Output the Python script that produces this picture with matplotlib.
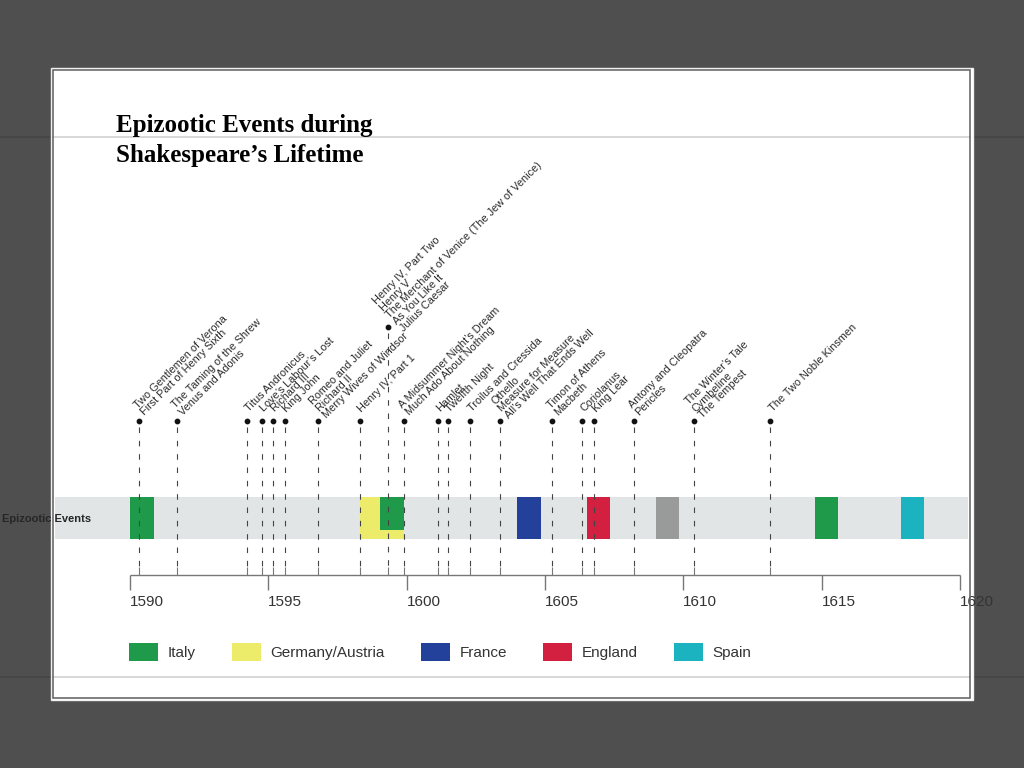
import matplotlib.pyplot as plt
from matplotlib.patches import Rectangle, Patch

# Plays: approximate year of composition and titles grouped at that mark
play_years = [1590.33, 1591.7, 1594.23, 1594.77, 1595.17, 1595.6, 1596.8,
              1598.31, 1599.32, 1599.9, 1601.15, 1601.49, 1602.29, 1603.37,
              1605.27, 1606.34, 1606.77, 1608.22, 1610.38, 1613.15]
play_titles = [
    "Two Gentlemen of Verona\nFirst Part of Henry Sixth",
    "The Taming of the Shrew\nVenus and Adonis",
    "Titus Andronicus",
    "Love’s Labour’s Lost",
    "Richard III",
    "King John",
    "Romeo and Juliet\nRichard II\nMerry Wives of Windsor",
    "Henry IV, Part 1",
    "Henry IV, Part Two\nHenry V\nThe Merchant of Venice (The Jew of Venice)\nAs You Like It\nJulius Caesar",
    "A Midsummer Night’s Dream\nMuch Ado About Nothing",
    "Hamlet",
    "Twelfth Night",
    "Troilus and Cressida",
    "Othello\nMeasure for Measure\nAll’s Well That Ends Well",
    "Timon of Athens\nMacbeth",
    "Coriolanus",
    "King Lear",
    "Antony and Cleopatra\nPericles",
    "The Winter’s Tale\nCymbeline\nThe Tempest",
    "The Two Noble Kinsmen",
]

# Epizootic events: start, end, region
event_start = [1590.0, 1598.3, 1599.05, 1604.0, 1606.5, 1609.0, 1614.75, 1617.85]
event_end = [1590.85, 1599.9, 1599.9, 1604.85, 1607.35, 1609.85, 1615.6, 1618.7]
event_region = ["Italy", "Germany/Austria", "Italy", "France", "England",
                "Unknown", "Italy", "Spain"]

regions = ["Italy", "Germany/Austria", "France", "England", "Spain"]
region_colors = {"Italy": "#1f9a4b", "Germany/Austria": "#ecec6a",
                 "France": "#23409b", "England": "#d31f40",
                 "Spain": "#1bb3c0", "Unknown": "#999b9b"}

year_ticks = [1590, 1595, 1600, 1605, 1610, 1615, 1620]

# layout (pixel units, y from top)
W, H = 1024, 768
PPY = 27.667            # pixels per year
X0 = 130                # pixel of 1590
DOT_Y, RAISED_Y = 421, 327
BAND_TOP, BAND_BOT = 497, 539
AXIS_Y = 575
raised = {8}

fig = plt.figure(figsize=(W / 100, H / 100), dpi=100)
fig.patch.set_facecolor("#4f4f4f")

# slide guide lines and the white panel
for yy in (137, 677):
    fig.add_artist(plt.Line2D([0, 1], [1 - yy / H] * 2, color="#454545", lw=1.2, zorder=-3))
fig.add_artist(Rectangle((51 / W, 1 - 700 / H), 922 / W, 632 / H, facecolor="white",
                         edgecolor="#f0f0f0", lw=1, zorder=-2))
for yy in (137, 677):
    fig.add_artist(plt.Line2D([53 / W, 970 / W], [1 - yy / H] * 2, color="#d2d2d2", lw=1.2, zorder=-1))
fig.add_artist(Rectangle((53 / W, 1 - 698 / H), 917 / W, 628 / H, facecolor="none",
                         edgecolor="#5e5e5e", lw=1.1, zorder=5))

serif = "Liberation Serif"
fig.text(116 / W, 1 - 132 / H, "Epizootic Events during", family=serif,
         weight="bold", fontsize=18, color="black", va="baseline")
fig.text(116 / W, 1 - 162 / H, "Shakespeare’s Lifetime", family=serif,
         weight="bold", fontsize=18, color="black", va="baseline")

plt.rcParams["font.family"] = ["Liberation Sans", "DejaVu Sans"]

ax = fig.add_axes([0, 0, 1, 1])
ax.set_xlim(1590 - X0 / PPY, 1590 + (W - X0) / PPY)
ax.set_ylim(H, 0)
ax.axis("off")
ax.patch.set_alpha(0)

# grey band
ax.axhspan(BAND_TOP, BAND_BOT, xmin=55 / W, xmax=968 / W, color="#e1e5e5", lw=0, zorder=1)

# epizootic boxes
for i, (s, e, r) in enumerate(zip(event_start, event_end, event_region)):
    bot = BAND_BOT
    if any(s < event_end[j] and e > event_start[j] for j in range(i)):
        bot = BAND_BOT - 9
    ax.add_patch(Rectangle((s, BAND_TOP), e - s, bot - BAND_TOP,
                           facecolor=region_colors[r], edgecolor="none", zorder=2))

fig.text(2 / W, 1 - 519 / H, "Epizootic Events", fontsize=8, weight="bold",
         color="#262626", va="center", zorder=4)

# play markers
for i, (yr, title) in enumerate(zip(play_years, play_titles)):
    y = RAISED_Y if i in raised else DOT_Y
    ax.vlines(yr, y + 6, AXIS_Y - 8, color="#444444", lw=0.8,
              linestyles=(0, (5, 7)), zorder=3)
    ax.scatter([yr], [y], s=10, color="#111111", zorder=4)
    ax.annotate(title, (yr, y), xytext=(0, 11), textcoords="offset pixels",
                rotation=45, rotation_mode="anchor", ha="left", va="center",
                fontsize=7.8, color="#2a2a2a", linespacing=0.95)

# timeline axis
ax.hlines(AXIS_Y, year_ticks[0], year_ticks[-1], color="#777777", lw=1, zorder=3)
ax.vlines(year_ticks, AXIS_Y, AXIS_Y + 15, color="#777777", lw=1, zorder=3)
ax.vlines(play_years, AXIS_Y - 8, AXIS_Y, color="#777777", lw=0.8, zorder=3)
for t in year_ticks:
    ax.text(t, 602, str(t), ha="left", va="center", fontsize=11, color="#333333")

handles = [Patch(facecolor=region_colors[r], edgecolor="none", label=r) for r in regions]
fig.legend(handles=handles, loc="center left", bbox_to_anchor=(129 / W, 1 - 652 / H),
           ncol=5, frameon=False, fontsize=11, handlelength=1.9, handleheight=1.5,
           handletextpad=0.6, columnspacing=2.4, borderpad=0, borderaxespad=0,
           labelcolor="#333333")

fig.savefig("out.png", dpi=100, facecolor=fig.get_facecolor())
